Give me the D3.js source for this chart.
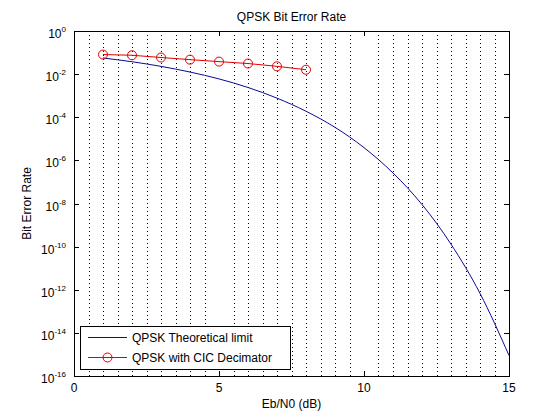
<html>
<script src="https://d3js.org/d3.v7.min.js"></script>
<style>
body { margin: 0; background: #fff; }
text { font-family: Arial, "Liberation Sans", sans-serif; fill: #000; }
</style>
<body>
<svg width="560" height="420"></svg>
<script>
// data
var ebno = [1, 2, 3, 4, 5, 6, 7, 8, 9, 10, 11, 12, 13, 14, 15];
var berTheory = [0.056, 0.0375, 0.0229, 0.0125, 0.006, 0.0024, 7.7e-4, 1.9e-4,
                 3.4e-5, 3.9e-6, 2.6e-7, 9e-9, 1.3e-10, 6.8e-13, 9e-16];
var ebnoCic = [1, 2, 3, 4, 5, 6, 7, 8];
var berCic = [0.081, 0.075, 0.059, 0.047, 0.038, 0.031, 0.023, 0.016];
var xTicks = [0, 5, 10, 15];
var yExps = [0, -2, -4, -6, -8, -10, -12, -14, -16];
var seriesNames = ["QPSK Theoretical limit", "QPSK with CIC Decimator"];

var L = 74, R = 509, T = 31, B = 376;
var blue = "#0a0a96", red = "#e00000";

var svg = d3.select("svg");
var x = d3.scaleLinear().domain([0, 15]).range([L, R]);
var y = d3.scaleLog().domain([1e-16, 1]).range([B, T]);

// dotted minor grid, every 0.5 dB (not on the major ticks)
var grid = d3.range(0.5, 15, 0.5).filter(function(d) { return d % 5 != 0; });
svg.append("g").selectAll("line").data(grid).enter().append("line")
  .attr("x1", function(d) { return Math.round(x(d)) + 0.5; })
  .attr("x2", function(d) { return Math.round(x(d)) + 0.5; })
  .attr("y1", T).attr("y2", B)
  .attr("stroke", "#000").attr("stroke-width", 1)
  .attr("stroke-dasharray", "1,3");

// axes box
svg.append("rect").attr("x", L + 0.5).attr("y", T + 0.5)
  .attr("width", R - L).attr("height", B - T)
  .attr("fill", "none").attr("stroke", "#000");

// x ticks (inside, bottom and top)
var xt = svg.append("g");
xTicks.forEach(function(d) {
  var px = Math.round(x(d)) + 0.5;
  xt.append("line").attr("x1", px).attr("x2", px).attr("y1", B).attr("y2", B - 5).attr("stroke", "#000");
  xt.append("line").attr("x1", px).attr("x2", px).attr("y1", T).attr("y2", T + 5).attr("stroke", "#000");
  xt.append("text").attr("x", x(d)).attr("y", B + 16).attr("text-anchor", "middle")
    .style("font-size", "12px").text(d);
});

// y ticks
var yt = svg.append("g");
yExps.forEach(function(e) {
  var py = Math.round(y(Math.pow(10, e))) + 0.5;
  yt.append("line").attr("x1", L).attr("x2", L + 5).attr("y1", py).attr("y2", py).attr("stroke", "#000");
  yt.append("line").attr("x1", R).attr("x2", R - 5).attr("y1", py).attr("y2", py).attr("stroke", "#000");
  var t = yt.append("text").attr("x", L - 8).attr("y", py + 6).attr("text-anchor", "end")
    .style("font-size", "12px");
  t.append("tspan").text("10");
  t.append("tspan").attr("dy", -6).style("font-size", "8px").text(e);
});

// series lines
var line = d3.line()
  .x(function(d) { return x(d[0]); })
  .y(function(d) { return y(d[1]); });

svg.append("path").datum(d3.zip(ebno, berTheory))
  .attr("d", line.curve(d3.curveMonotoneX)).attr("fill", "none").attr("stroke", blue).attr("stroke-width", 1);

svg.append("path").datum(d3.zip(ebnoCic, berCic))
  .attr("d", line.curve(d3.curveLinear)).attr("fill", "none").attr("stroke", red).attr("stroke-width", 1);

svg.append("g").selectAll("circle").data(d3.zip(ebnoCic, berCic)).enter().append("circle")
  .attr("cx", function(d) { return x(d[0]); })
  .attr("cy", function(d) { return y(d[1]); })
  .attr("r", 4.5).attr("fill", "none").attr("stroke", red);

// legend
var lg = svg.append("g");
lg.append("rect").attr("x", 80.5).attr("y", 326.5).attr("width", 210).attr("height", 43)
  .attr("fill", "#fff").attr("stroke", "#000");
[blue, red].forEach(function(c, i) {
  var ly = 337 + i * 20 + 0.5;
  lg.append("line").attr("x1", 88).attr("x2", 127).attr("y1", ly).attr("y2", ly).attr("stroke", c);
  if (i == 1) lg.append("circle").attr("cx", 107.5).attr("cy", ly).attr("r", 4.5)
    .attr("fill", "none").attr("stroke", c);
  lg.append("text").attr("x", 132).attr("y", ly + 4.5).style("font-size", "12px").text(seriesNames[i]);
});

// titles
svg.append("text").attr("x", (L + R) / 2).attr("y", 21).attr("text-anchor", "middle")
  .style("font-size", "12px").text("QPSK Bit Error Rate");
svg.append("text").attr("x", (L + R) / 2).attr("y", 408).attr("text-anchor", "middle")
  .style("font-size", "12px").text("Eb/N0 (dB)");
svg.append("text").attr("transform", "translate(31," + (T + B) / 2 + ") rotate(-90)")
  .attr("text-anchor", "middle").style("font-size", "12px").text("Bit Error Rate");
</script>
</body>
</html>
